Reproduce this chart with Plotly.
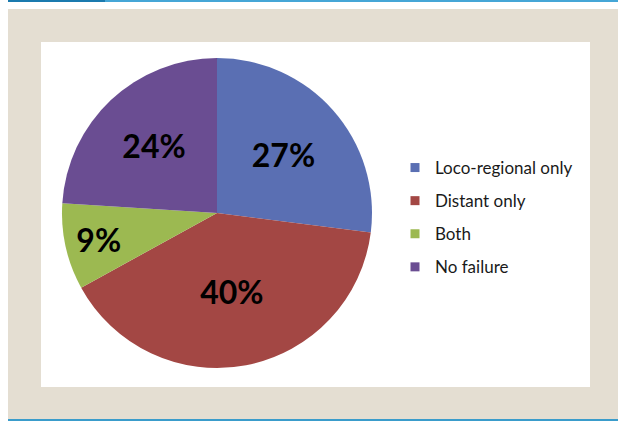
import plotly.graph_objects as go

labels = ["Loco-regional only", "Distant only", "Both", "No failure"]
values = [27, 40, 9, 24]
colors = ["#5A6FB3", "#A34744", "#9CB951", "#6A4D92"]

W, H = 618, 421

def px(x):
    return x / W

def py(y):
    return 1 - y / H

fig = go.Figure()

fig.add_trace(go.Pie(
    labels=labels,
    values=values,
    sort=False,
    direction="clockwise",
    rotation=0,
    marker=dict(colors=colors, line=dict(width=0)),
    texttemplate="%{percent:.0%}",
    textposition="inside",
    insidetextorientation="horizontal",
    textfont=dict(family="Lato", size=32, color="black", weight="bold"),
    domain=dict(x=[px(62), px(372)], y=[py(368), py(58)]),
    showlegend=False,
    hoverinfo="label+percent",
))

for i, (lab, col) in enumerate(zip(labels, colors)):
    fig.add_trace(go.Scatter(
        x=[None], y=[None], mode="markers", name=lab,
        marker=dict(symbol="square", size=9, color=col),
        legendgroup=f"g{i}", showlegend=True,
    ))

fig.update_layout(
    width=W, height=H,
    margin=dict(l=0, r=0, t=0, b=0),
    paper_bgcolor="white",
    plot_bgcolor="rgba(0,0,0,0)",
    xaxis=dict(visible=False),
    yaxis=dict(visible=False),
    legend=dict(
        x=px(395), y=py(150), xanchor="left", yanchor="top",
        font=dict(family="Lato", size=17, color="#1a1a1a"),
        bgcolor="rgba(0,0,0,0)", tracegroupgap=8,
        itemwidth=30,
    ),
    shapes=[
        dict(type="rect", xref="paper", yref="paper", x0=px(8), x1=1, y0=py(420), y1=py(9),
             fillcolor="#E4DED2", line=dict(width=0), layer="below"),
        dict(type="rect", xref="paper", yref="paper", x0=px(41), x1=px(590), y0=py(387), y1=py(42),
             fillcolor="white", line=dict(width=0), layer="below"),
        dict(type="rect", xref="paper", yref="paper", x0=px(8), x1=px(105), y0=py(2), y1=1,
             fillcolor="#1B7AAE", line=dict(width=0), layer="below"),
        dict(type="rect", xref="paper", yref="paper", x0=px(105), x1=1, y0=py(2), y1=1,
             fillcolor="#45A6D6", line=dict(width=0), layer="below"),
        dict(type="rect", xref="paper", yref="paper", x0=px(8), x1=1, y0=0, y1=py(419),
             fillcolor="#3A9CCB", line=dict(width=0), layer="below"),
    ],
)

fig.write_html("out.html")
